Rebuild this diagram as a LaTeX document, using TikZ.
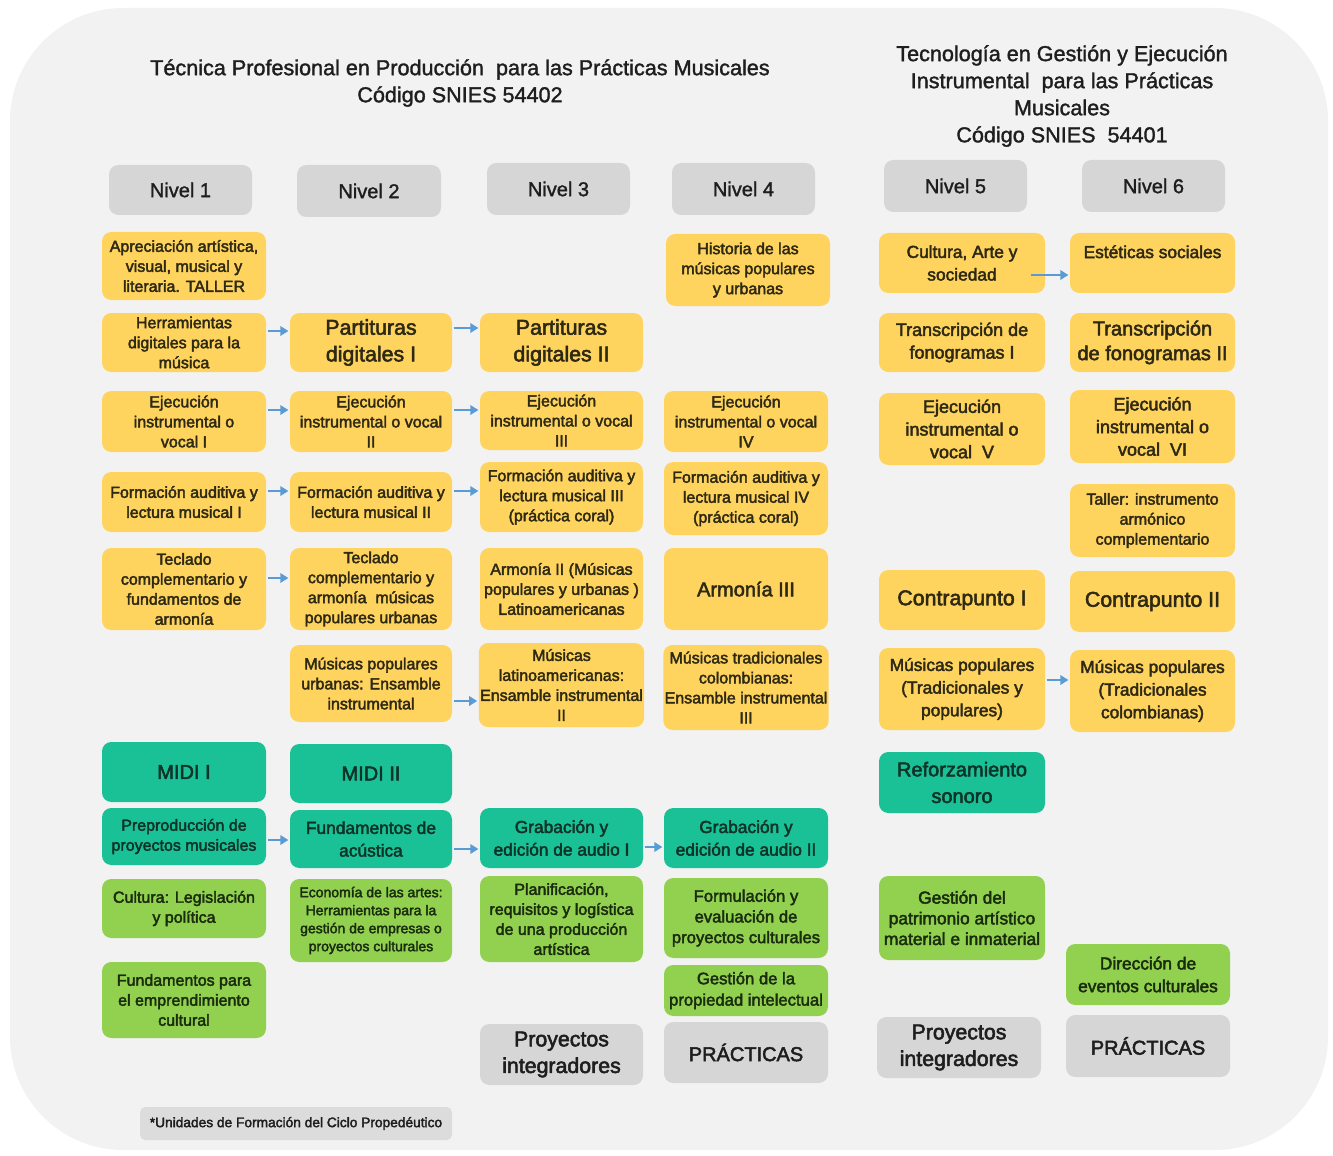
\documentclass[tikz,border=0pt]{standalone}
\usepackage{fontspec}
\setmainfont{Liberation Sans}
\newfontfamily\bxf{Liberation Sans}[FakeBold=2.5]
\newfontfamily\tif{Liberation Sans}[FakeBold=1.5]
\usetikzlibrary{arrows.meta,calc}
\definecolor{bgc}{HTML}{F2F2F2}
\definecolor{yel}{HTML}{FFD45E}
\definecolor{teal2}{HTML}{1BC196}
\definecolor{grn}{HTML}{92D050}
\definecolor{gry}{HTML}{D6D6D6}
\definecolor{ytext}{HTML}{2E2914}
\definecolor{ttext}{HTML}{0E3328}
\definecolor{gtext}{HTML}{1A2C0E}
\definecolor{ktext}{HTML}{1E1E1E}
\definecolor{arrc}{HTML}{5B9BD5}
\newcommand\B[7]{\node[#1, minimum width={(#5-#3)*0.75pt}, minimum height={(#6-#4)*0.75pt}] (#2) at ({(#3+#5)/2},{(#4+#6)/2}) {#7};}
\tikzset{
  sz/.style 2 args={font=\bxf\fontsize{#1}{#2}\selectfont},
  base/.style={rounded corners=7pt, align=center, inner sep=1pt, sz={12}{15}},
  yb/.style={base, fill=yel, text=ytext},
  tb/.style={base, fill=teal2, text=ttext},
  gb/.style={base, fill=grn, text=gtext},
  kb/.style={base, fill=gry, text=ktext, sz={16}{20}},
  hd/.style={base, fill=gry, text=ktext, font=\tif\fontsize{15}{18}\selectfont},
  ttl/.style={align=center, text=ktext, inner sep=0pt, font=\tif\fontsize{16.2}{20.3}\selectfont},
  arr/.style={draw=arrc, line width=1.8pt, -{Triangle[length=6pt,width=7pt]}, shorten <=1pt, shorten >=1pt},
}
\begin{document}
\begin{tikzpicture}[x=0.75pt,y=-0.75pt]
\useasboundingbox (0,0) rectangle (1333,1155);
\fill[white] (0,0) rectangle (1333,1155);
\fill[bgc, rounded corners=85pt] (10,8) rectangle (1328,1150);

% titles
\node[ttl] (t1) at (460,83) {Técnica Profesional en Producción\ \ para las Prácticas Musicales\\ Código SNIES 54402};
\node[ttl] (t2) at (1062,96) {Tecnología en Gestión y Ejecución\\ Instrumental\ \ para las Prácticas\\ Musicales\\ Código SNIES\ \ 54401};

% level headers
\B{hd}{n1}{109}{165}{252}{215}{Nivel 1}
\B{hd}{n2}{297}{165}{441}{217}{Nivel 2}
\B{hd}{n3}{487}{163}{630}{215}{Nivel 3}
\B{hd}{n4}{672}{163}{815}{215}{Nivel 4}
\B{hd}{n5}{884}{160}{1027}{212}{Nivel 5}
\B{hd}{n6}{1082}{160}{1225}{212}{Nivel 6}

% column 1
\B{yb}{apr}{102}{232}{266}{300}{Apreciación artística,\\ visual, musical y\\ literaria. TALLER}
\B{yb}{herr}{102}{313}{266}{372}{Herramientas\\ digitales para la\\ música}
\B{yb}{ej1}{102}{391}{266}{452}{Ejecución\\ instrumental o\\ vocal I}
\B{yb}{fo1}{102}{472}{266}{532}{Formación auditiva y\\ lectura musical I}
\B{yb}{te1}{102}{548}{266}{630}{Teclado\\ complementario y\\ fundamentos de\\ armonía}
\B{tb,sz={15}{18}}{midi1}{102}{742}{266}{802}{MIDI I}
\B{tb}{prep}{102}{808}{266}{865}{Preproducción de\\ proyectos musicales}
\B{gb}{cleg}{102}{879}{266}{938}{Cultura: Legislación\\ y política}
\B{gb}{femp}{102}{962}{266}{1038}{Fundamentos para\\ el emprendimiento\\ cultural}

% column 2
\B{yb,sz={16}{20}}{part1}{290}{313}{452}{372}{Partituras\\ digitales I}
\B{yb}{ej2}{290}{391}{452}{452}{Ejecución\\ instrumental o vocal\\ II}
\B{yb}{fo2}{290}{472}{452}{532}{Formación auditiva y\\ lectura musical II}
\B{yb}{te2}{290}{548}{452}{630}{Teclado\\ complementario y\\ armonía\ \ músicas\\ populares urbanas}
\B{yb}{mpu}{290}{645}{452}{722}{Músicas populares\\ urbanas: Ensamble\\ instrumental}
\B{tb,sz={15}{18}}{midi2}{290}{744}{452}{803}{MIDI II}
\B{tb,sz={13}{17}}{fac}{290}{810}{452}{868}{Fundamentos de\\ acústica}
\B{gb,sz={10.5}{13.5}}{eco}{290}{879}{452}{962}{Economía de las artes:\\ Herramientas para la\\ gestión de empresas o\\ proyectos culturales}

% column 3
\B{yb,sz={16}{20}}{part2}{480}{313}{643}{372}{Partituras\\ digitales II}
\B{yb}{ej3}{480}{391}{643}{450}{Ejecución\\ instrumental o vocal\\ III}
\B{yb}{fo3}{480}{462}{643}{532}{Formación auditiva y\\ lectura musical III\\ (práctica coral)}
\B{yb}{ar2}{480}{548}{643}{630}{Armonía II (Músicas\\ populares y urbanas )\\ Latinoamericanas}
\B{yb}{mla}{480}{643}{643}{727}{Músicas\\ latinoamericanas:\\ Ensamble instrumental\\ II}
\B{tb,sz={13}{17}}{gr1}{480}{808}{643}{868}{Grabación y\\ edición de audio I}
\B{gb}{plan}{480}{876}{643}{962}{Planificación,\\ requisitos y logística\\ de una producción\\ artística}
\B{kb}{pi1}{480}{1024}{643}{1085}{Proyectos\\ integradores}

% column 4
\B{yb}{hist}{666}{234}{830}{306}{Historia de las\\ músicas populares\\ y urbanas}
\B{yb}{ej4}{664}{391}{828}{452}{Ejecución\\ instrumental o vocal\\ IV}
\B{yb}{fo4}{664}{462}{828}{535}{Formación auditiva y\\ lectura musical IV\\ (práctica coral)}
\B{yb,sz={15}{18}}{ar3}{664}{548}{828}{630}{Armonía III}
\B{yb}{mtc}{664}{645}{828}{730}{Músicas tradicionales\\ colombianas:\\ Ensamble instrumental\\ III}
\B{tb,sz={13}{17}}{gr2}{664}{808}{828}{868}{Grabación y\\ edición de audio II}
\B{gb,sz={12.5}{15.5}}{formu}{664}{878}{828}{958}{Formulación y\\ evaluación de\\ proyectos culturales}
\B{gb,sz={12.5}{16}}{gpi}{664}{965}{828}{1016}{Gestión de la\\ propiedad intelectual}
\B{kb,sz={15}{18}}{prac1}{664}{1022}{828}{1083}{PRÁCTICAS}

% column 5
\B{yb,sz={13}{17}}{cult}{879}{233}{1045}{293}{Cultura, Arte y\\ sociedad}
\B{yb,sz={13.5}{17}}{tr1}{879}{313}{1045}{372}{Transcripción de\\ fonogramas I}
\B{yb,sz={13.5}{17}}{ej5}{879}{393}{1045}{465}{Ejecución\\ instrumental o\\ vocal\ \ V}
\B{yb,sz={16}{20}}{cp1}{879}{570}{1045}{630}{Contrapunto I}
\B{yb,sz={13}{17}}{mp5}{879}{648}{1045}{730}{Músicas populares\\ (Tradicionales y\\ populares)}
\B{tb,sz={15}{20}}{ref}{879}{752}{1045}{813}{Reforzamiento\\ sonoro}
\B{gb,sz={13}{15.5}}{gpat}{879}{876}{1045}{960}{Gestión del\\ patrimonio artístico\\ material e inmaterial}
\B{kb}{pi2}{877}{1017}{1041}{1078}{Proyectos\\ integradores}

% column 6
\B{yb,sz={13}{17}}{est}{1070}{233}{1235}{293}{Estéticas sociales\\ \mbox{}}
\B{yb,sz={15}{18.5}}{tr2}{1070}{313}{1235}{372}{Transcripción\\ de fonogramas II}
\B{yb,sz={13.5}{17}}{ej6}{1070}{390}{1235}{463}{Ejecución\\ instrumental o\\ vocal\ \ VI}
\B{yb}{tal}{1070}{484}{1235}{557}{Taller: instrumento\\ armónico\\ complementario}
\B{yb,sz={16}{20}}{cp2}{1070}{571}{1235}{632}{Contrapunto II}
\B{yb,sz={13}{17}}{mp6}{1070}{650}{1235}{732}{Músicas populares\\ (Tradicionales\\ colombianas)}
\B{gb,sz={13}{17}}{dir}{1066}{944}{1230}{1005}{Dirección de\\ eventos culturales}
\B{kb,sz={15}{18}}{prac2}{1066}{1015}{1230}{1077}{PRÁCTICAS}

% footnote
\B{base,fill=gry!85,text=ktext,rounded corners=4pt,sz={10.3}{12}}{foot}{140}{1107}{452}{1140}{*Unidades de Formación del Ciclo Propedéutico}

% arrows
\draw[arr] (herr.east |- 0,331) -- (part1.west |- 0,331);
\draw[arr] (part1.east |- 0,328) -- (part2.west |- 0,328);
\draw[arr] (ej1.east |- 0,410) -- (ej2.west |- 0,410);
\draw[arr] (ej2.east |- 0,410) -- (ej3.west |- 0,410);
\draw[arr] (fo1.east |- 0,491) -- (fo2.west |- 0,491);
\draw[arr] (fo2.east |- 0,491) -- (fo3.west |- 0,491);
\draw[arr] (te1.east |- 0,578) -- (te2.west |- 0,578);
\draw[arr] (mpu.east |- 0,701) -- (mla.west |- 0,701);
\draw[arr] (prep.east |- 0,840) -- (fac.west |- 0,840);
\draw[arr] (fac.east |- 0,849) -- (gr1.west |- 0,849);
\draw[arr] (gr1.east |- 0,847) -- (gr2.west |- 0,847);
\draw[arr] ($(cult.east |- 0,275)+(-16,0)$) -- (est.west |- 0,275);
\draw[arr] (mp5.east |- 0,680) -- (mp6.west |- 0,680);
\end{tikzpicture}
\end{document}
